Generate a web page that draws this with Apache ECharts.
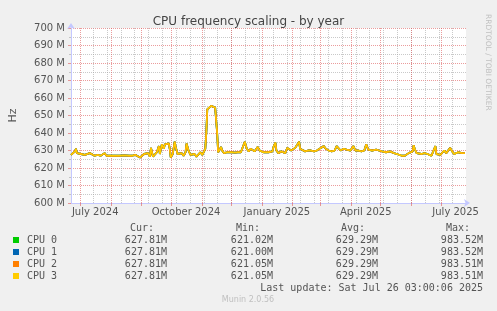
<!DOCTYPE html>
<html><head><meta charset="utf-8">
<script src="https://cdn.jsdelivr.net/npm/echarts@6/dist/echarts.min.js"></script>
<style>html,body{margin:0;padding:0;background:#f0f0f0}#c{width:497px;height:311px}</style>
</head><body><div id="c"></div>
<script>
const chartTitle = 'CPU frequency scaling - by year';
const yAxisName = 'Hz';
const rangeStart = '2024-06-21T12:00:00Z';
const rangeEnd = '2025-07-26T12:00:00Z';
// days since rangeStart
const dayOffsets = [0,2,4,5,6,8,10,12,14,16,19,21,24,27,30,32,34,36,40,44,49,54,59,62,65,67,70,72,74,76,78,80,81,83,85,87,89,90,92,94,95,97,99,100,101,103,105,106,108,110,112,114,116,117,119,121,123,125,127,129,131,133,135,136,137,138,140,142,143,144,146,147,148,149,150,152,153,155,158,160,163,166,169,172,174,176,178,180,182,184,186,188,189,191,193,195,197,200,202,204,205,207,208,210,213,215,217,219,221,223,225,227,229,231,232,234,237,240,243,246,249,251,253,255,256,258,261,264,267,269,271,273,276,279,281,283,286,288,291,294,297,299,301,303,305,307,309,311,315,319,323,327,330,332,335,338,340,342,344,346,347,348,350,352,355,358,361,363,365,367,369,370,372,374,376,378,380,382,384,386,388,390,392,394,396,398,399];
// MHz
const cpuFreq = [627.5,628.0,629.5,631.0,628.5,627.5,628.0,627.0,627.5,628.0,628.5,627.5,627.0,627.5,627.0,627.0,628.5,627.0,627.0,627.0,627.0,627.2,627.0,627.0,627.5,626.5,626.0,626.5,628.0,627.0,628.5,626.5,631.5,626.5,627.5,629.0,632.5,628.0,633.5,631.0,633.5,634.0,634.0,631.0,626.0,628.0,635.0,632.0,628.0,627.0,628.5,627.0,629.0,634.0,630.0,627.5,627.0,628.0,626.5,627.5,629.0,627.5,628.0,631.0,640.0,653.5,654.5,655.5,656.5,656.0,654.5,653.5,640.0,629.0,628.5,632.0,630.0,628.5,629.0,629.5,629.0,628.8,629.0,629.0,629.5,635.0,631.0,629.5,631.0,630.0,629.5,630.5,632.0,630.0,630.5,629.0,628.5,629.0,628.5,629.5,632.0,634.5,630.0,628.5,629.5,629.0,628.5,631.5,631.0,630.0,631.0,631.5,631.0,635.0,631.0,630.0,629.5,630.0,630.0,629.5,630.0,631.0,631.5,630.5,632.5,631.0,630.0,629.5,630.0,632.5,631.5,630.0,631.0,630.5,631.0,630.0,632.5,630.0,630.0,629.5,630.0,633.5,630.5,629.5,630.0,631.0,630.5,629.5,629.5,629.0,629.5,628.5,628.0,627.0,627.0,627.0,627.5,628.5,629.0,629.5,633.0,631.0,628.5,629.0,628.0,628.5,628.0,627.5,627.0,626.5,632.5,628.0,628.0,627.5,626.5,630.0,628.5,628.5,631.5,629.5,628.0,628.5,629.0,628.0,628.5,629.0,628.5];
const seriesNames = ['CPU 0','CPU 1','CPU 2','CPU 3'];
const seriesColors = ['#00cc00','#0066b3','#ff8000','#ffcc00'];
const curValues = ['627.81M','627.81M','627.81M','627.81M'];
const minValues = ['621.02M','621.00M','621.05M','621.05M'];
const avgValues = ['629.29M','629.29M','629.29M','629.29M'];
const maxValues = ['983.52M','983.52M','983.51M','983.51M'];
const columnHeaders = ['Cur:','Min:','Avg:','Max:'];
const lastUpdate = 'Last update: Sat Jul 26 03:00:06 2025';
const footer = 'Munin 2.0.56';
const sideText = 'RRDTOOL / TOBI OETIKER';
const monthStarts = ['2024-07-01','2024-08-01','2024-09-01','2024-10-01','2024-11-01','2024-12-01','2025-01-01','2025-02-01','2025-03-01','2025-04-01','2025-05-01','2025-06-01','2025-07-01'];
const tickLabelDates = ['2024-07-16','2024-10-16','2025-01-16','2025-04-16','2025-07-16'];
const tickLabels = ['July 2024','October 2024','January 2025','April 2025','July 2025'];
const yMin = 600, yMax = 700, yStep = 10;

const DAY = 86400000;
const t0 = Date.parse(rangeStart), t1 = Date.parse(rangeEnd);
const ts = s => Date.parse(s + 'T00:00:00Z');
const seriesData = dayOffsets.map((d, i) => [t0 + d * DAY, cpuFreq[i]]);
const monthTs = monthStarts.map(ts);
const minorGrid = [];
for (let t = ts('2024-07-14'); t < t1; t += 14 * DAY) minorGrid.push(t);
const labelTs = tickLabelDates.map(ts);

const RED = 'rgba(222,90,90,0.6)';
const GRAY = 'rgba(165,165,165,0.6)';
const AX = '#c4c8ff';
const FONT = 'DejaVu Sans';
const MONO = 'DejaVu Sans Mono';

const chart = echarts.init(document.getElementById('c'), null, {renderer: 'canvas'});
const graphics = [];
const colRight = [167, 273, 378, 483];
columnHeaders.forEach((h, i) => graphics.push({type: 'text', x: colRight[i] - 13, y: 228, style: {text: h, font: '10px ' + MONO, fill: '#555', textAlign: 'right', textVerticalAlign: 'middle'}}));
[curValues, minValues, avgValues, maxValues].forEach((arr, c) => arr.forEach((v, r) => graphics.push({type: 'text', x: colRight[c], y: 240 + r * 12, style: {text: v, font: '10px ' + MONO, fill: '#555', textAlign: 'right', textVerticalAlign: 'middle'}})));
graphics.push({type: 'text', x: 483, y: 288, style: {text: lastUpdate, font: '10px ' + MONO, fill: '#555', textAlign: 'right', textVerticalAlign: 'middle'}});
graphics.push({type: 'text', x: 248, y: 300, style: {text: footer, font: '8px ' + FONT, fill: '#c0c0c0', textAlign: 'center', textVerticalAlign: 'middle'}});
graphics.push({type: 'text', x: 488, y: 14, rotation: -Math.PI / 2, style: {text: sideText, font: '7.5px ' + FONT, fill: '#c0c0c0', textAlign: 'left', textVerticalAlign: 'middle'}});

const vGrid = (vals, color, z) => ({
  silent: true, symbol: 'none', z: z, animation: false, precision: 10,
  label: {show: false}, emphasis: {disabled: true},
  lineStyle: {color: color, type: [1, 1], width: 1},
  data: vals.map(v => ({xAxis: v}))
});

chart.setOption({
  backgroundColor: '#f0f0f0',
  animation: false,
  title: {text: chartTitle, left: 'center', top: 11, textStyle: {fontFamily: FONT, fontSize: 12, fontWeight: 'normal', color: '#444'}},
  legend: {
    orient: 'vertical', left: 13, top: 234, padding: 0, itemWidth: 6, itemHeight: 6, itemGap: 0, icon: 'rect',
    data: seriesNames, selectedMode: false,
    textStyle: {fontFamily: MONO, fontSize: 10, color: '#555', lineHeight: 12, padding: [0, 0, 0, 3]}
  },
  grid: {left: 66, right: 31, top: 28, bottom: 108, show: true, backgroundColor: '#ffffff', borderWidth: 0},
  xAxis: {
    type: 'value', min: t0, max: t1, scale: true,
    axisLine: {show: true, lineStyle: {color: AX, width: 1}, symbol: ['none', 'arrow'], symbolSize: [6, 6], symbolOffset: [0, 4]},
    axisTick: {show: true, customValues: monthTs, length: 3, lineStyle: {color: RED}},
    axisLabel: {customValues: labelTs, formatter: v => { const i = labelTs.indexOf(v); return i >= 0 ? tickLabels[i] : ''; }, fontFamily: FONT, fontSize: 10, color: '#555', margin: 4, hideOverlap: false},
    splitLine: {show: false}
  },
  yAxis: {
    type: 'value', min: yMin, max: yMax, interval: yStep,
    name: yAxisName, nameLocation: 'middle', nameGap: 52, nameRotate: 90,
    nameTextStyle: {fontFamily: FONT, fontSize: 11, color: '#555'},
    axisLine: {show: true, lineStyle: {color: AX}, symbol: ['none', 'arrow'], symbolSize: [6, 6], symbolOffset: [0, 5]},
    axisTick: {show: true, length: 3, lineStyle: {color: RED}},
    axisLabel: {formatter: v => v + ' M', fontFamily: FONT, fontSize: 10, color: '#555', margin: 6},
    splitLine: {show: true, lineStyle: {color: RED, type: [1, 1], width: 1}},
    minorTick: {show: true, splitNumber: 2, length: 2, lineStyle: {color: GRAY}},
    minorSplitLine: {show: true, lineStyle: {color: GRAY, type: [1, 1], width: 1}}
  },
  graphic: graphics,
  series: [{
    name: 'grid-minor', type: 'line', data: [], z: 1, silent: true,
    markLine: vGrid(minorGrid, GRAY, 1)
  }, {
    name: 'grid-major', type: 'line', data: [], z: 1, silent: true,
    markLine: vGrid(monthTs, RED, 2)
  }].concat(seriesNames.map((n, i) => ({
    name: n, type: 'line', data: seriesData, showSymbol: false, symbol: 'none',
    itemStyle: {color: seriesColors[i]},
    lineStyle: {color: seriesColors[i], width: i === 3 ? 1.4 : 1.8},
    z: 3 + i
  })))
});
</script></body></html>
